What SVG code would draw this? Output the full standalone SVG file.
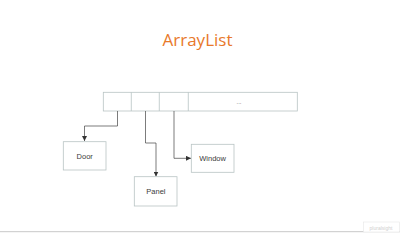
<svg xmlns="http://www.w3.org/2000/svg" width="400" height="240" viewBox="0 0 400 240">
<style>
.box{fill:#fff;stroke:#b8c4c4;stroke-width:0.8}
.lbl{font-family:"Liberation Sans",Arial,sans-serif;font-size:7.5px;fill:#3a3a3a;text-anchor:middle}
.con{fill:none;stroke:#444;stroke-width:0.7}
</style>
<defs>
<marker id="ah" viewBox="0 0 6 6" refX="6" refY="3" markerWidth="5" markerHeight="5" orient="auto" markerUnits="userSpaceOnUse">
<path d="M0,0 L6,3 L0,6 z" fill="#333"/>
</marker>
</defs>
<rect width="400" height="240" fill="#fff"/>
<text x="197.5" y="45.5" font-family="'Open Sans',sans-serif" font-size="17" fill="#e8792b" text-anchor="middle">ArrayList</text>
<g id="array">
<rect class="box" x="103.3" y="92.3" width="194" height="18.7"/>
<line class="box" x1="131.3" y1="92.3" x2="131.3" y2="111"/>
<line class="box" x1="159.3" y1="92.3" x2="159.3" y2="111"/>
<line class="box" x1="188.3" y1="92.3" x2="188.3" y2="111"/>
<text x="239" y="104" font-family="'Liberation Sans',sans-serif" font-size="6" fill="#555" text-anchor="middle">...</text>
</g>
<g id="connectors">
<path class="con" d="M117.5,111 V126 H84.5 V141" marker-end="url(#ah)"/>
<path class="con" d="M145.5,111 V143 H156 V176.5" marker-end="url(#ah)"/>
<path class="con" d="M174,111 V158.3 H191" marker-end="url(#ah)"/>
</g>
<g id="door">
<rect class="box" x="63.3" y="141.7" width="42.7" height="28.3"/>
<text class="lbl" x="84.7" y="158.5">Door</text>
</g>
<g id="panel">
<rect class="box" x="134.3" y="176.7" width="42.7" height="29.3"/>
<text class="lbl" x="155.9" y="193.8">Panel</text>
</g>
<g id="window">
<rect class="box" x="191.3" y="144.3" width="42.7" height="28"/>
<text class="lbl" x="212.6" y="161.2">Window</text>
</g>
<line x1="0" y1="231.7" x2="400" y2="231.7" stroke="#c8c8c8" stroke-width="1"/>
<rect x="363.5" y="222" width="36" height="10" fill="#fff" stroke="#e6e6e6" stroke-width="0.6"/>
<text x="381" y="229.5" font-family="'Liberation Sans',sans-serif" font-size="5" fill="#cfcfcf" text-anchor="middle">pluralsight</text>
</svg>
